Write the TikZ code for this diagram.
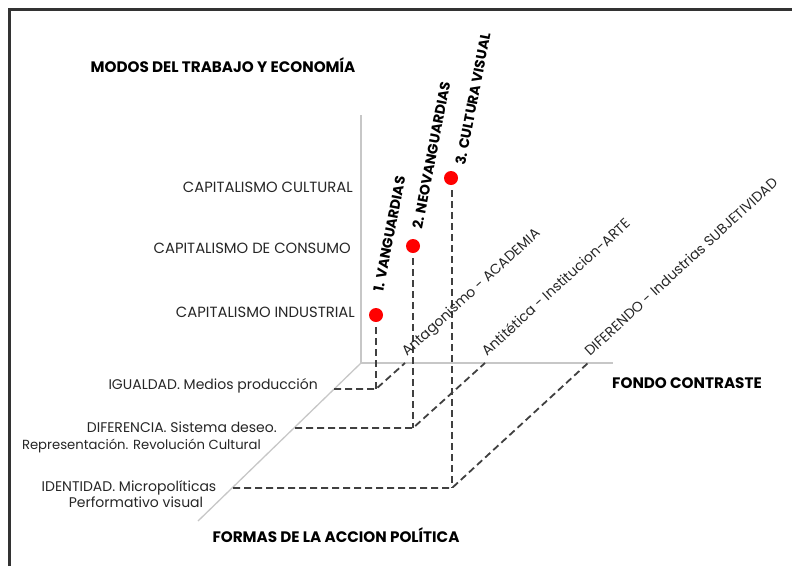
\documentclass[tikz,border=0pt]{standalone}
\usepackage{fontspec}
\setmainfont{Poppins}
\begin{document}
\begin{tikzpicture}[x=1pt,y=-1pt,
  frame/.style={draw=black!80, line width=3pt},
  axis/.style={draw=black!22, line width=1.3pt},
  dsh/.style={draw=black!75, line width=1.8pt, dash pattern=on 7pt off 4pt},
  dot/.style={circle, fill=red, inner sep=0pt, minimum size=14pt},
  lbl/.style={font=\fontsize{14}{16}\selectfont, text=black!85, inner sep=0pt},
  caplbl/.style={font=\fontsize{14.8}{16}\selectfont, text=black!85, inner sep=0pt, anchor=base east},
  ttl/.style={font=\bfseries\fontsize{15.2}{17}\selectfont, text=black, inner sep=0pt},
  vlbl/.style={font=\bfseries\fontsize{14}{16}\selectfont, text=black, inner sep=0pt, anchor=base west, rotate=79},
  dlbl/.style={lbl, anchor=base west, rotate=42.5}]
\useasboundingbox (0,0) rectangle (792,566);
% frame
\coordinate (fb) at (9,566);
\coordinate (ftl) at (9,9);
\coordinate (fr) at (792,9);
\draw[frame] (fb) -- (ftl) -- (fr);
% axes
\coordinate (O) at (361,363);
\coordinate (vt) at (361,115);
\coordinate (hr) at (613,363);
\coordinate (db) at (198,521);
\draw[axis] (vt) -- (O) -- (hr);
\draw[axis] (O) -- (db);
% dots
\node[dot] (d1) at (376,315) {};
\node[dot] (d2) at (413,246) {};
\node[dot] (d3) at (451,178) {};
% corner points
\coordinate (c1) at (376,389);
\coordinate (c2) at (413,428);
\coordinate (c3) at (452,488);
\coordinate (a1) at (334,389);
\coordinate (a2) at (295,428);
\coordinate (a3) at (233,488);
\coordinate (h1) at (405,363);
\coordinate (h2) at (485,363);
\coordinate (h3) at (588,363);
\draw[dsh, shorten <=5pt] (d1) -- (c1);
\draw[dsh, shorten <=5pt] (d2) -- (c2);
\draw[dsh, shorten <=5pt] (d3.south -| c3) -- (c3);
\draw[dsh] (a1) -- (c1) -- (h1);
\draw[dsh] (a2) -- (c2) -- (h2);
\draw[dsh] (a3) -- (c3) -- (h3);
% titles
\node[ttl, anchor=base] (t1) at (223,72) {MODOS DEL TRABAJO Y ECONOMÍA};
\node[ttl, anchor=base] (t2) at (336,542) {FORMAS DE LA ACCION POLÍTICA};
\node[ttl, anchor=base] (t3) at (687,388) {FONDO CONTRASTE};
% y labels
\node[caplbl] (y3) at (353,192) {CAPITALISMO CULTURAL};
\node[caplbl] (y2) at (351,253) {CAPITALISMO DE CONSUMO};
\node[caplbl] (y1) at (355,317) {CAPITALISMO INDUSTRIAL};
% depth labels
\node[lbl, anchor=base east] (z1) at (318,389) {IGUALDAD. Medios producción};
\node[lbl, anchor=base east] (z2a) at (277,432) {DIFERENCIA. Sistema deseo.};
\node[lbl, anchor=base east, font=\fontsize{13.2}{16}\selectfont] (z2b) at (261,449) {Representación. Revolución Cultural};
\node[lbl, anchor=base] (z3a) at (129,491) {IDENTIDAD. Micropolíticas};
\node[lbl, anchor=base] (z3b) at (136,507) {Performativo visual};
% rotated labels
\node[vlbl] (v1) at (383,293) {1. VANGUARDIAS};
\node[vlbl] (v2) at (422,230) {2. NEOVANGUARDIAS};
\node[vlbl] (v3) at (465,166) {3. CULTURA VISUAL};
\node[dlbl] (x1) at (407,357) {Antagonismo - ACADEMIA};
\node[dlbl] (x2) at (487,357) {Antitética - Institucion-ARTE};
\node[dlbl] (x3) at (590,357) {DIFERENDO - Industrias SUBJETIVIDAD};
\end{tikzpicture}
\end{document}
